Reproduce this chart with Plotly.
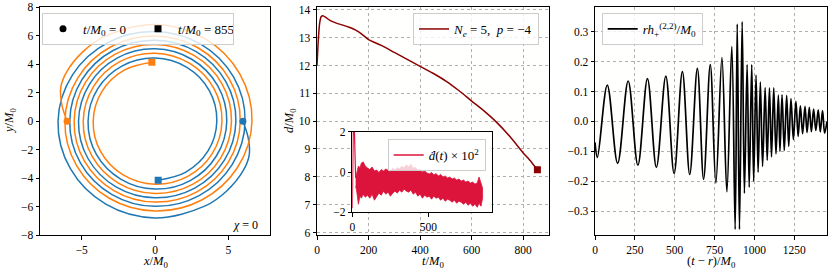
import numpy as np
import plotly.graph_objects as go

W, H = 830, 271
FONT = "Liberation Serif"

# ---------------- data ----------------
# Orbit of body 1 read in polar form: clockwise angle (deg) and radius (M0)
orbit_theta_deg = [0, 10, 20, 30, 45, 60, 90, 120, 150, 180, 210, 240, 270, 300, 330,
                   360, 390, 420, 450, 480, 510, 540, 570, 600, 630, 660, 690, 720, 750,
                   780, 810, 840, 870, 900, 930, 960, 990, 1020, 1050, 1080, 1110, 1140,
                   1170, 1200, 1230, 1260, 1290, 1320, 1350, 1380, 1410, 1440, 1470,
                   1500, 1527]
orbit_r = [6.0, 6.45, 6.85, 6.95, 6.92, 6.86, 6.78, 6.72, 6.67, 6.62, 6.5, 6.38, 6.29,
           6.24, 6.19, 6.15, 6.08, 6.02, 5.97, 5.92, 5.87, 5.82, 5.77, 5.72, 5.67, 5.62,
           5.57, 5.52, 5.47, 5.42, 5.37, 5.32, 5.27, 5.22, 5.17, 5.12, 5.07, 5.01, 4.95,
           4.9, 4.85, 4.81, 4.76, 4.69, 4.63, 4.57, 4.52, 4.47, 4.42, 4.35, 4.28, 4.22,
           4.18, 4.15, 4.14]

# Separation d(t)
d_t = [0, 5, 10, 16, 23, 35, 50, 75, 100, 125, 150, 175, 200, 250, 300, 350, 400,
       450, 500, 550, 600, 650, 700, 750, 800, 830, 855]
d_val = [12.0, 12.9, 13.5, 13.75, 13.79, 13.72, 13.62, 13.52, 13.45, 13.37, 13.27,
         13.12, 12.93, 12.72, 12.47, 12.22, 11.97, 11.72, 11.44, 11.1, 10.72, 10.35,
         9.93, 9.43, 8.86, 8.55, 8.25]

# Inset: d-dot x 100 (initial spike, then upper / lower edges of the noisy band)
ddot_spike_t = [0, 2, 5, 9, 14, 19, 22]
ddot_spike_v = [-1.8, 0.5, 3.5, 3.5, 2.0, 0.2, -0.3]
band_t = [22, 30, 40, 50, 60, 72, 85, 100, 115, 130, 145, 160, 175, 190, 205, 220, 235,
          250, 265, 280, 295, 310, 325, 340, 355, 370, 385, 400, 415, 430, 445, 460,
          475, 490, 505, 520, 535, 550, 565, 580, 595, 610, 625, 640, 655, 670, 685,
          700, 715, 730, 745, 760, 775, 790, 805, 820, 832, 845, 855]
band_hi = [-0.3, 0.05, 0.3, 0.2, 0.45, 0.5, 0.3, 0.2, 0.12, 0.25, 0.05, 0.1, -0.02,
           0.12, 0.05, 0.15, 0.08, 0.02, 0.18, 0.1, 0.22, 0.15, 0.28, 0.2, 0.35, 0.25,
           0.38, 0.18, 0.22, 0.08, 0.12, 0.0, 0.05, -0.05, -0.1, -0.02, -0.15, -0.08,
           -0.2, -0.12, -0.25, -0.2, -0.3, -0.25, -0.35, -0.3, -0.4, -0.35, -0.45, -0.4,
           -0.5, -0.45, -0.55, -0.5, -0.6, -0.55, -0.25, -0.6, -0.8]
band_lo = [-0.7, -1.0, -1.6, -1.2, -1.3, -1.1, -1.25, -1.15, -1.3, -1.1, -1.4, -1.2,
           -1.05, -1.15, -0.95, -1.1, -1.0, -1.2, -1.05, -0.95, -1.05, -0.9, -1.0,
           -0.85, -0.95, -1.0, -0.9, -1.1, -1.0, -1.2, -1.1, -1.3, -1.15, -1.25, -1.2,
           -1.35, -1.2, -1.3, -1.25, -1.4, -1.3, -1.45, -1.35, -1.4, -1.5, -1.4, -1.55,
           -1.45, -1.5, -1.6, -1.5, -1.65, -1.55, -1.7, -1.6, -1.75, -1.55, -1.7, -1.3]

# Waveform r h_+^(2,2)/M0: extrema
wave_t = [0, 15, 77, 142, 208, 269, 329, 385, 444, 496, 548, 594, 642, 681, 723, 758,
          796, 827, 858, 879, 892, 906, 923, 937, 954, 967, 983, 995, 1010, 1023, 1037,
          1051, 1067, 1080, 1094, 1107, 1121, 1135, 1150, 1160, 1173, 1187, 1202, 1215,
          1229, 1244, 1260, 1274, 1288, 1302, 1317, 1330, 1344, 1357, 1371, 1385, 1400,
          1413, 1427, 1440, 1455]
wave_h = [-0.07, -0.12, 0.121, -0.14, 0.135, -0.146, 0.143, -0.153, 0.151, -0.174,
          0.166, -0.177, 0.177, -0.193, 0.19, -0.205, 0.213, -0.235, 0.25, -0.36, 0.325,
          -0.36, 0.333, -0.24, 0.19, -0.22, 0.19, -0.2, 0.155, -0.17, 0.132, -0.15,
          0.113, -0.13, 0.112, -0.118, 0.112, -0.108, 0.088, -0.1, 0.089, -0.097, 0.087,
          -0.083, 0.076, -0.061, 0.067, -0.05, 0.052, -0.041, 0.05, -0.037, 0.047,
          -0.034, 0.041, -0.03, 0.039, -0.035, 0.036, -0.039, 0.0]

# tick labels
orbit_xticks = [-5, 0, 5]
orbit_yticks = [-8, -6, -4, -2, 0, 2, 4, 6, 8]
d_xticks = [0, 200, 400, 600, 800]
d_yticks = [6, 7, 8, 9, 10, 11, 12, 13, 14]
inset_xticks = [0, 500]
inset_yticks = [-2, 0, 2]
wave_xticks = [0, 250, 500, 750, 1000, 1250]
wave_yticks = [-0.3, -0.2, -0.1, 0.0, 0.1, 0.2, 0.3]

# ---------------- figure ----------------
BLUE, ORANGE = "#1f77b4", "#ff7f0e"
DARKRED, CRIMSON = "#8b0000", "#dc143c"


def dx(a, b):
    return [a / W, b / W]


def dy(top, bottom):
    return [1 - bottom / H, 1 - top / H]


th = np.deg2rad(np.array(orbit_theta_deg, dtype=float))
rr = np.array(orbit_r)
bx, by = rr * np.cos(th), -rr * np.sin(th)
ox, oy = -bx, -by

fig = go.Figure()

# panel 1 - orbits
fig.add_trace(go.Scatter(x=bx, y=by, mode="lines", line=dict(color=BLUE, width=1.5, shape="spline", smoothing=1.0),
                         showlegend=False, xaxis="x", yaxis="y"))
fig.add_trace(go.Scatter(x=ox, y=oy, mode="lines", line=dict(color=ORANGE, width=1.5, shape="spline", smoothing=1.0),
                         showlegend=False, xaxis="x", yaxis="y"))
fig.add_trace(go.Scatter(x=[bx[0]], y=[by[0]], mode="markers", marker=dict(color=BLUE, size=7, symbol="circle"),
                         showlegend=False, xaxis="x", yaxis="y"))
fig.add_trace(go.Scatter(x=[ox[0]], y=[oy[0]], mode="markers", marker=dict(color=ORANGE, size=7, symbol="circle"),
                         showlegend=False, xaxis="x", yaxis="y"))
fig.add_trace(go.Scatter(x=[bx[-1]], y=[by[-1]], mode="markers", marker=dict(color=BLUE, size=7, symbol="square"),
                         showlegend=False, xaxis="x", yaxis="y"))
fig.add_trace(go.Scatter(x=[ox[-1]], y=[oy[-1]], mode="markers", marker=dict(color=ORANGE, size=7, symbol="square"),
                         showlegend=False, xaxis="x", yaxis="y"))
fig.add_trace(go.Scatter(x=[None], y=[None], mode="markers", marker=dict(color="black", size=7, symbol="circle"),
                         name="<i>t</i>/<i>M</i><sub>0</sub> = 0", legend="legend", xaxis="x", yaxis="y"))
fig.add_trace(go.Scatter(x=[None], y=[None], mode="markers", marker=dict(color="black", size=7, symbol="square"),
                         name="<i>t</i>/<i>M</i><sub>0</sub> = %d" % d_t[-1], legend="legend", xaxis="x", yaxis="y"))

# panel 2 - separation
fig.add_trace(go.Scatter(x=d_t, y=d_val, mode="lines", line=dict(color=DARKRED, width=1.5, shape="spline", smoothing=0.6),
                         name="<i>N<sub>e</sub></i> = 5,  <i>p</i> = −4", legend="legend2", xaxis="x2", yaxis="y2"))
fig.add_trace(go.Scatter(x=[d_t[-1]], y=[d_val[-1]], mode="markers", marker=dict(color=DARKRED, size=7, symbol="square"),
                         showlegend=False, xaxis="x2", yaxis="y2"))

# inset
poly_t = band_t + band_t[::-1]
poly_v = band_hi + band_lo[::-1]
fig.add_trace(go.Scatter(x=poly_t, y=poly_v, mode="lines", fill="toself", fillcolor=CRIMSON,
                         line=dict(color=CRIMSON, width=0.8), showlegend=False, xaxis="x4", yaxis="y4"))
fig.add_trace(go.Scatter(x=ddot_spike_t, y=ddot_spike_v, mode="lines", line=dict(color=CRIMSON, width=1.2),
                         showlegend=False, xaxis="x4", yaxis="y4"))
fig.add_trace(go.Scatter(x=[None], y=[None], mode="lines", line=dict(color=CRIMSON, width=1.5),
                         name="<i>ḋ</i>(<i>t</i>) × 10<sup>2</sup>", legend="legend4", xaxis="x4", yaxis="y4"))

# panel 3 - waveform
fig.add_trace(go.Scatter(x=wave_t, y=wave_h, mode="lines", line=dict(color="black", width=1.7, shape="spline", smoothing=1.0),
                         name="<i>rh</i><sub>+</sub><sup>(2,2)</sup>/<i>M</i><sub>0</sub>", legend="legend3",
                         xaxis="x3", yaxis="y3"))

axis_common = dict(showline=True, mirror=True, linecolor="black", linewidth=0.8, ticks="outside",
                   ticklen=3.5, tickwidth=0.8, tickcolor="black", zeroline=False, automargin=False,
                   ticklabelstandoff=0,
                   tickfont=dict(family=FONT, size=11.5, color="black"))
grid_on = dict(showgrid=True, gridcolor="#b0b0b0", griddash="dot", gridwidth=0.8)
grid_off = dict(showgrid=False)

legend_common = dict(bgcolor="rgba(255,255,255,0.8)", bordercolor="#cccccc", borderwidth=1,
                     font=dict(family=FONT, size=13, color="black"), xanchor="left", yanchor="top")

fig.update_layout(
    width=W, height=H, margin=dict(l=0, r=0, t=0, b=0, autoexpand=False),
    paper_bgcolor="white", plot_bgcolor="#fffffe",
    font=dict(family=FONT, size=12, color="black"),
    xaxis=dict(domain=dx(40, 270), range=[-7.85, 7.85], tickvals=orbit_xticks, anchor="y", **axis_common, **grid_off),
    yaxis=dict(domain=dy(7, 235.3), range=[-8, 8], tickvals=orbit_yticks, anchor="x", **axis_common, **grid_off),
    xaxis2=dict(domain=dx(317, 549), range=[0, 900], tickvals=d_xticks, anchor="y2", **axis_common, **grid_on),
    yaxis2=dict(domain=dy(7, 235.3), range=[5.9, 14.1], tickvals=d_yticks, anchor="x2", **axis_common, **grid_on),
    xaxis3=dict(domain=dx(595, 827), range=[0, 1455], tickvals=wave_xticks, anchor="y3", **axis_common, **grid_on),
    yaxis3=dict(domain=dy(7, 235.3), range=[-0.38, 0.382], tickvals=wave_yticks, tickformat=".1f", anchor="x3",
                **axis_common, **grid_on),
    xaxis4=dict(domain=dx(352.3, 491.7), range=[0, 915], tickvals=inset_xticks, anchor="y4", **axis_common, **grid_off),
    yaxis4=dict(domain=dy(131.7, 212.3), range=[-2, 2], tickvals=inset_yticks, anchor="x4", **axis_common, **grid_off),
    legend=dict(x=42 / W, y=1 - 12.7 / H, orientation="h", entrywidth=50, entrywidthmode="pixels",
                itemwidth=30, **legend_common),
    legend2=dict(x=413 / W, y=1 - 13 / H, **legend_common),
    legend3=dict(x=601.7 / W, y=1 - 13 / H, **legend_common),
    legend4=dict(x=387.7 / W, y=1 - 139 / H, **legend_common),
)

fig.add_shape(type="line", xref="x4 domain", yref="y4", x0=0, x1=1, y0=0, y1=0,
              line=dict(color="gray", width=1, dash="dash"), layer="below")

title_font = dict(family=FONT, size=12.5, color="black")
titles = [
    ("<i>x</i>/<i>M</i><sub>0</sub>", 155 / W, 1 - 262 / H, 0),
    ("<i>y</i>/<i>M</i><sub>0</sub>", 10 / W, 1 - 121 / H, -90),
    ("<i>t</i>/<i>M</i><sub>0</sub>", 433 / W, 1 - 262 / H, 0),
    ("<i>d</i>/<i>M</i><sub>0</sub>", 290 / W, 1 - 121 / H, -90),
    ("(<i>t</i> − <i>r</i>)/<i>M</i><sub>0</sub>", 711 / W, 1 - 262 / H, 0),
]
for txt, xp, yp, ang in titles:
    fig.add_annotation(text=txt, x=xp, y=yp, xref="paper", yref="paper", showarrow=False,
                       textangle=ang, font=title_font, xanchor="center", yanchor="middle")

fig.add_annotation(text="<i>χ</i> = 0", x=6.2, y=-7.3, xref="x", yref="y", showarrow=False,
                   font=dict(family=FONT, size=12, color="black"))

fig.write_html("out.html", config={"displayModeBar": False},
               post_script="document.body.style.margin='0';document.body.style.overflow='hidden';")
